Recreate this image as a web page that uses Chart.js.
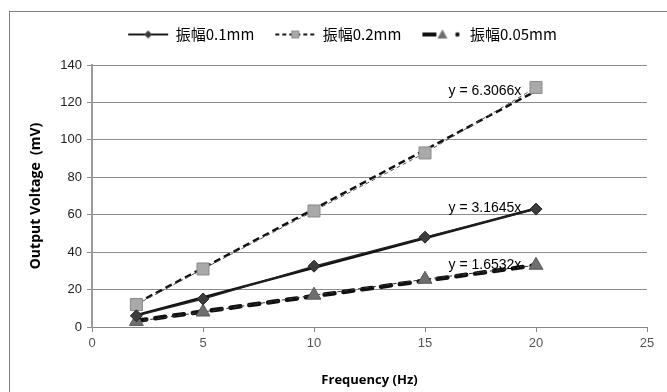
<!DOCTYPE html>
<html>
<head>
<meta charset="utf-8">
<script src="https://cdn.jsdelivr.net/npm/chart.js@4/dist/chart.umd.min.js"></script>
<style>
  html, body { margin: 0; padding: 0; background: #fff; }
  #wrap { position: absolute; left: 0; top: 0; width: 667px; height: 392px; }
  #frame { position: absolute; left: 9px; top: 11px; width: 700px; height: 400px; border: 1px solid #7f7f7f; box-sizing: border-box; pointer-events: none; }
  canvas { position: absolute; left: 0; top: 0; }
</style>
</head>
<body>
<div id="wrap">
  <canvas id="c" width="667" height="392"></canvas>
  <div id="frame"></div>
</div>
<script>
// ---- data ----
const frequencies = [2, 5, 10, 15, 20];
const amp01 = [6, 15, 32.5, 48, 63];
const amp02 = [12, 31, 62, 93, 128];
const amp005 = [3, 8, 17, 25.5, 33];
const seriesNames = ['振幅0.1mm', '振幅0.2mm', '振幅0.05mm'];
const trendSlopes = [3.1645, 6.3066, 1.6532];
const trendLabels = ['y = 3.1645x', 'y = 6.3066x', 'y = 1.6532x'];
const trendRange = [2, 20];
const xTicks = [0, 5, 10, 15, 20, 25];
const yTicks = [0, 20, 40, 60, 80, 100, 120, 140];

function pts(ys) { return frequencies.map((x, i) => ({ x: x, y: ys[i] })); }
function trend(k) { return trendRange.map(x => ({ x: x, y: k * x })); }

// legend icons (line + marker), drawn as small canvases
function icon(kind) {
  const c = document.createElement('canvas');
  c.width = 42; c.height = 14;
  const g = c.getContext('2d');
  g.lineCap = 'butt';
  if (kind === 0) {
    g.strokeStyle = '#1a1a1a'; g.lineWidth = 2.2;
    g.beginPath(); g.moveTo(1, 7); g.lineTo(41, 7); g.stroke();
    g.fillStyle = '#3a3a3a';
    g.beginPath(); g.moveTo(21, 3); g.lineTo(25, 7); g.lineTo(21, 11); g.lineTo(17, 7); g.closePath(); g.fill();
  } else if (kind === 1) {
    g.strokeStyle = '#1a1a1a'; g.lineWidth = 2;
    g.setLineDash([4, 3]);
    g.beginPath(); g.moveTo(1, 7); g.lineTo(41, 7); g.stroke();
    g.setLineDash([]);
    g.fillStyle = '#a8a8a8'; g.strokeStyle = '#909090'; g.lineWidth = 1;
    g.fillRect(17, 3, 8, 8); g.strokeRect(17.5, 3.5, 7, 7);
  } else {
    g.strokeStyle = '#111'; g.lineWidth = 4;
    g.beginPath(); g.moveTo(1, 7); g.lineTo(15, 7); g.stroke();
    g.fillStyle = '#111';
    g.beginPath(); g.arc(36, 7, 2.2, 0, Math.PI * 2); g.fill();
    g.fillStyle = '#6e6e6e';
    g.beginPath(); g.moveTo(21, 2); g.lineTo(26, 11); g.lineTo(16, 11); g.closePath(); g.fill();
  }
  return c;
}
const icons = [icon(0), icon(1), icon(2)];

// an empty layout box between the legend and the plot area (spacing only)
const spacerPlugin = {
  id: 'legendSpacer',
  beforeInit(chart) {
    Chart.layouts.addBox(chart, {
      position: 'top', weight: 0, fullSize: true, options: {},
      left: 0, top: 0, right: 0, bottom: 0, width: 0, height: 0,
      isHorizontal() { return true; },
      update(maxWidth) { this.width = maxWidth; this.height = 13; return {}; },
      draw() {}
    });
  },
  afterLayout(chart) {
    // nudge the legend row to the right, as in the reference
    chart.legend.left += 7;
    chart.legend.right += 7;
  }
};

const trendLabelPlugin = {
  id: 'trendLabels',
  afterDatasetsDraw(chart) {
    const ctx = chart.ctx, xs = chart.scales.x, ys = chart.scales.y;
    ctx.save();
    ctx.font = '14px "Liberation Sans", Arial, sans-serif';
    ctx.fillStyle = '#000';
    ctx.textAlign = 'center';
    ctx.textBaseline = 'middle';
    trendSlopes.forEach((k, i) => {
      const xv = 17.7;
      ctx.fillText(trendLabels[i], xs.getPixelForValue(xv), ys.getPixelForValue(k * trendRange[1]));
    });
    ctx.restore();
  }
};

new Chart(document.getElementById('c'), {
  type: 'scatter',
  data: {
    datasets: [
      { label: seriesNames[0], data: pts(amp01), showLine: true, borderColor: '#222', borderWidth: 1.5,
        pointStyle: 'rectRot', pointRadius: 6, pointBackgroundColor: '#3c3c3c', pointBorderColor: '#2a2a2a', pointBorderWidth: 1, order: 1 },
      { label: seriesNames[1], data: pts(amp02), showLine: true, borderColor: '#555', borderWidth: 1, borderDash: [4, 3],
        pointStyle: 'rect', pointRadius: 8.5, pointBackgroundColor: '#a9a9a9', pointBorderColor: '#8a8a8a', pointBorderWidth: 1, order: 1 },
      { label: seriesNames[2], data: pts(amp005), showLine: true, borderColor: '#333', borderWidth: 1, borderDash: [4, 3],
        pointStyle: 'triangle', pointRadius: 8, pointBackgroundColor: '#6f6f6f', pointBorderColor: '#5a5a5a', pointBorderWidth: 1, order: 1 },
      { label: 't1', data: trend(trendSlopes[0]), showLine: true, borderColor: '#111', borderWidth: 2.5, pointRadius: 0, order: 2 },
      { label: 't2', data: trend(trendSlopes[1]), showLine: true, borderColor: '#111', borderWidth: 2.5, borderDash: [7, 4], pointRadius: 0, order: 2 },
      { label: 't3', data: trend(trendSlopes[2]), showLine: true, borderColor: '#111', borderWidth: 4.5, borderDash: [10, 9], borderCapStyle: 'round', pointRadius: 0, order: 2 }
    ]
  },
  options: {
    responsive: false,
    animation: false,
    layout: { padding: { left: 24, right: 20, top: 6, bottom: 0 } },
    plugins: {
      tooltip: { enabled: false },
      legend: {
        position: 'top',
        labels: {
          usePointStyle: true,
          pointStyleWidth: 40,
          padding: 21,
          color: '#000',
          font: { family: '"Noto Sans CJK JP", "Noto Sans", sans-serif', size: 15 },
          generateLabels: (chart) => seriesNames.map((n, i) => ({
            text: n, datasetIndex: i, pointStyle: icons[i], fillStyle: '#000', strokeStyle: '#000', lineWidth: 0, hidden: false
          }))
        }
      }
    },
    scales: {
      x: {
        type: 'linear', min: 0, max: 25,
        afterBuildTicks: (s) => { s.ticks = xTicks.map(v => ({ value: v })); },
        afterFit: (s) => { s.height = 65; },
        grid: { drawOnChartArea: false, drawTicks: true, tickLength: 5, color: '#868686' },
        border: { color: '#868686', width: 1 },
        ticks: { color: '#555', font: { family: '"Liberation Sans", Arial, sans-serif', size: 13 }, padding: 4 },
        title: { display: true, text: 'Frequency (Hz)', color: '#000', font: { family: '"Open Sans", "Liberation Sans", sans-serif', size: 13, weight: 'bold' }, padding: { top: 16 } }
      },
      y: {
        min: 0, max: 140,
        afterBuildTicks: (s) => { s.ticks = yTicks.map(v => ({ value: v })); },
        afterFit: (s) => { s.width = 68; },
        grid: { drawTicks: true, tickLength: 5, color: '#8c8c8c' },
        border: { color: '#9a9a9a', width: 2 },
        ticks: { color: '#222', font: { family: '"Liberation Sans", Arial, sans-serif', size: 13 }, padding: 5 },
        title: { display: true, text: 'Output Voltage  (mV)', color: '#000', font: { family: '"Open Sans", "Liberation Sans", sans-serif', size: 14, weight: 'bold' }, padding: { bottom: 8 } }
      }
    }
  },
  plugins: [spacerPlugin, trendLabelPlugin]
});
</script>
</body>
</html>
